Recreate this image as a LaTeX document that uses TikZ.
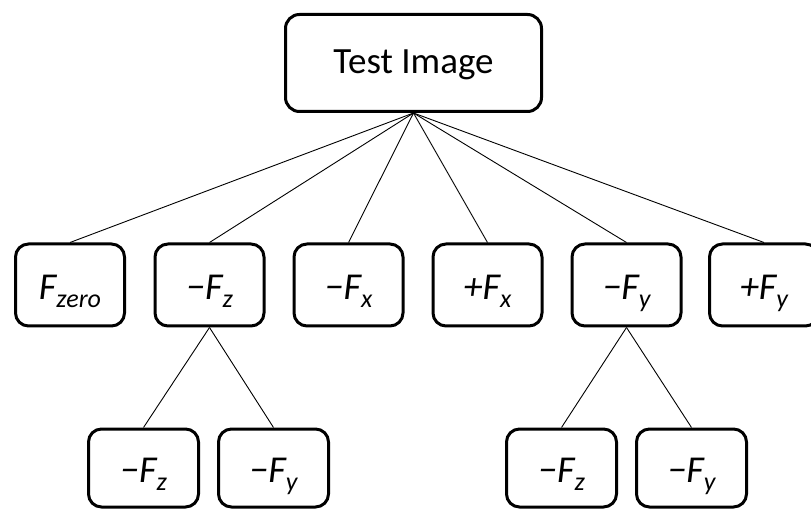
\documentclass[tikz,border=0pt]{standalone}
\usepackage{fontspec}
\setmainfont{Carlito}
\newcommand{\flab}[2]{{\itshape #1}\raisebox{-8pt}{\fontsize{26}{26}\selectfont\itshape #2}}
\begin{document}
\begin{tikzpicture}[x=1pt,y=-1pt,
  box/.style={draw, line width=3pt, rounded corners=14pt, inner sep=0pt, align=center, fill=white},
  topbox/.style={box, minimum width=256pt, minimum height=97pt, text height=21pt, text depth=0pt, font=\fontsize{37}{42}\selectfont},
  midbox/.style={box, rounded corners=13pt, minimum width=109pt, minimum height=82pt, text height=29pt, text depth=0pt, font=\fontsize{38}{42}\selectfont},
  lowbox/.style={box, rounded corners=13pt, minimum width=110pt, minimum height=78pt, text height=29pt, text depth=0pt, font=\fontsize{38}{42}\selectfont},
  conn/.style={line width=0.9pt}]
\useasboundingbox (0,0) rectangle (811,510);
\node[topbox] (top) at (413.5,63) {Test Image};
\node[midbox] (m1) at (70,285) {\flab{F}{zero}};
\node[midbox] (m2) at (209.5,285) {\flab{−F}{z}};
\node[midbox] (m3) at (348.5,285) {\flab{−F}{x}};
\node[midbox] (m4) at (487.5,285) {\flab{+F}{x}};
\node[midbox] (m5) at (626.5,285) {\flab{−F}{y}};
\node[midbox] (m6) at (764,285) {\flab{+F}{y}};
\node[lowbox] (b1) at (143.5,468) {\flab{−F}{z}};
\node[lowbox] (b2) at (273.5,468) {\flab{−F}{y}};
\node[lowbox] (b3) at (561.5,468) {\flab{−F}{z}};
\node[lowbox] (b4) at (691.5,468) {\flab{−F}{y}};
\foreach \c in {m1,m2,m3,m4,m5,m6} \draw[conn] (top.south) -- (\c.north);
\draw[conn] (m2.south) -- (b1.north);
\draw[conn] (m2.south) -- (b2.north);
\draw[conn] (m5.south) -- (b3.north);
\draw[conn] (m5.south) -- (b4.north);
\end{tikzpicture}
\end{document}
